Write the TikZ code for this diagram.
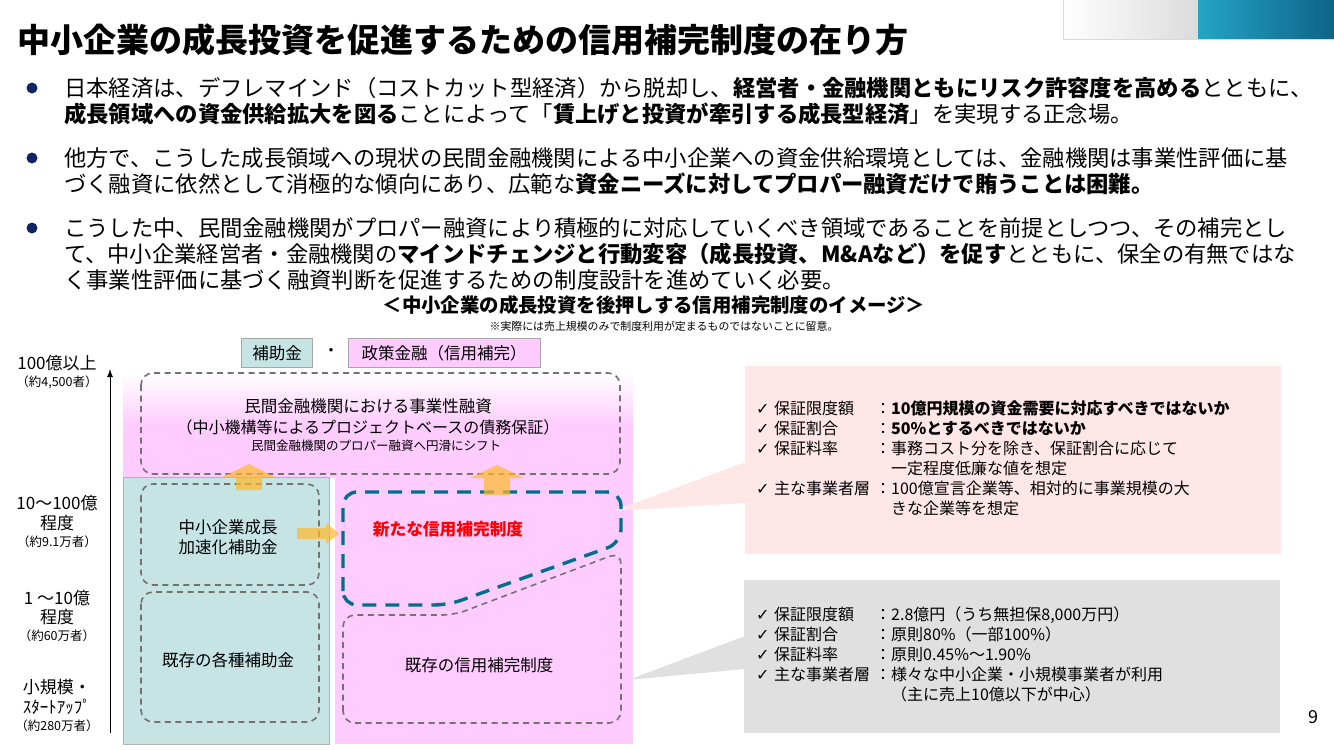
\documentclass[tikz,border=0pt]{standalone}
\usepackage{fontspec}
\setmainfont{Noto Sans CJK JP}
\newfontfamily\symfont{DejaVu Sans}
\usetikzlibrary{arrows.meta,positioning}

\definecolor{pinkfill}{RGB}{255,204,255}
\definecolor{tealfill}{RGB}{198,228,228}
\definecolor{calloutpink}{RGB}{255,230,231}
\definecolor{calloutgray}{RGB}{224,224,224}
\definecolor{dashgray}{RGB}{118,113,113}
\definecolor{newblue}{RGB}{0,110,145}
\definecolor{arrowyellow}{RGB}{255,185,40}
\definecolor{bulletblue}{RGB}{16,36,100}
\definecolor{bannerblue}{RGB}{36,164,198}
\definecolor{bannerdark}{RGB}{14,100,135}

\newcommand{\chk}{{\symfont ✓}}
\newcommand{\memorow}[2]{\makebox[18pt][l]{\chk}\makebox[101pt][l]{#1}：#2}
\newcommand{\memocont}[1]{\hspace*{135pt}#1}

\begin{document}
\begin{tikzpicture}[
    x=1pt, y=-1pt,
    >=Latex,
    dashbox/.style={draw=dashgray, line width=1.6pt, dash pattern=on 6pt off 4.5pt, rounded corners=12pt},
    newbox/.style={draw=newblue, line width=3.4pt, dash pattern=on 14pt off 9pt, rounded corners=14pt},
    lbl/.style={inner sep=0pt, align=center, font=\fontsize{16.5}{20}\selectfont},
    axislbl/.style={inner sep=0pt, font=\fontsize{17}{20}\selectfont},
    count/.style={inner sep=0pt, font=\fontsize{12.5}{15}\selectfont},
    bullettext/.style={anchor=north west, inner sep=0pt, align=left, font=\fontsize{22.3}{25.8}\selectfont},
    bulletdot/.style={circle, fill=bulletblue, minimum size=11pt, inner sep=0pt},
    memo/.style={anchor=north west, inner sep=0pt, align=left, font=\fontsize{16}{20}\selectfont},
    blockarrow/.style={fill=arrowyellow, fill opacity=0.7},
    tag/.style={draw=gray!70, line width=1pt, inner sep=0pt, minimum height=29pt, font=\fontsize{16.5}{20}\selectfont}
  ]
    \useasboundingbox (0,0) rectangle (1334,750);

    % banner top right
    \shade[left color=white, right color=gray!28] (1063,0) rectangle (1198,39);
    \shade[left color=bannerblue, right color=bannerdark] (1198,0) rectangle (1334,39);
    \draw[gray!30, line width=1pt] (1063,0) -- (1063,39) -- (1334,39);

    \node[anchor=west, inner sep=0pt, font=\fontsize{33}{36}\selectfont\bfseries] (title) at (17,40)
      {中小企業の成長投資を促進するための信用補完制度の在り方};

    % bullets
    \node[bulletdot] (dot1) at (32,88) {};
    \node[bulletdot] (dot2) at (32,158) {};
    \node[bulletdot] (dot3) at (32,228) {};
    \node[bullettext] (txt1) at (64,77.5)
      {日本経済は、デフレマインド（コストカット型経済）から脱却し、\textbf{経営者・金融機関ともにリスク許容度を高める}とともに、\\
       \textbf{成長領域への資金供給拡大を図る}ことによって「\textbf{賃上げと投資が牽引する成長型経済}」を実現する正念場。};
    \node[bullettext] (txt2) at (64,147.5)
      {他方で、こうした成長領域への現状の民間金融機関による中小企業への資金供給環境としては、金融機関は事業性評価に基\\
       づく融資に依然として消極的な傾向にあり、広範な\textbf{資金ニーズに対してプロパー融資だけで賄うことは困難。}};
    \node[bullettext] (txt3) at (64,217.5)
      {こうした中、民間金融機関がプロパー融資により積極的に対応していくべき領域であることを前提としつつ、その補完とし\\
       て、中小企業経営者・金融機関の\textbf{マインドチェンジと行動変容（成長投資、M\&Aなど）を促す}とともに、保全の有無ではな\\
       く事業性評価に基づく融資判断を促進するための制度設計を進めていく必要。};

    \node[inner sep=0pt, font=\fontsize{19.4}{22}\selectfont\bfseries] (image) at (654,305)
      {＜中小企業の成長投資を後押しする信用補完制度のイメージ＞};
    \node[inner sep=0pt, font=\fontsize{10.9}{13}\selectfont] (note) at (664,326)
      {※実際には売上規模のみで制度利用が定まるものではないことに留意。};

    % callouts (gray pointer behind the regions)
    \fill[calloutgray] (628,680) -- (745,636) -- (745,669) -- cycle;
    \fill[calloutpink] (745,366) rectangle (1281,554);
    \fill[calloutgray] (744,580) rectangle (1280,733);

    % regions
    \shade[top color=white, bottom color=pinkfill, middle color=pinkfill] (123,373) rectangle (633,477);
    \fill[pinkfill] (335,477) rectangle (633,744);
    \draw[gray!60, fill=tealfill] (123,477) rectangle (329,744);
    \fill[calloutpink] (613,511) -- (746,462) -- (746,503) -- cycle;

    \node[tag, fill=tealfill, minimum width=71pt] (hojo) at (277,353) {補助金};
    \node[inner sep=0pt, font=\fontsize{16.5}{20}\selectfont] (nakaguro) at (331,352) {・};
    \node[tag, fill=pinkfill, minimum width=192pt] (seisaku) at (444,353) {政策金融（信用補完）};

    % axis
    \coordinate (axisbot) at (110,733);
    \coordinate (axistop) at (110,369);
    \draw[line width=1pt, -{Latex[length=8pt,width=6pt]}] (axisbot) -- (axistop);
    \node[axislbl] (s1) at (57,363) {100億以上};
    \node[count] (n1) at (57,382) {（約4,500者）};
    \node[axislbl] (s2) at (57,503) {10～100億};
    \node[axislbl] (s2b) at (57,523) {程度};
    \node[count] (n2) at (57,542) {（約9.1万者）};
    \node[axislbl] (s3) at (57,598) {1 ～10億};
    \node[axislbl] (s3b) at (57,617) {程度};
    \node[count] (n3) at (57,636) {（約60万者）};
    \node[axislbl] (s4) at (57,687) {小規模・};
    \node[axislbl] (s4b) at (57,707) {ｽﾀｰﾄｱｯﾌﾟ};
    \node[count] (n4) at (57,726) {（約280万者）};

    % dashed boxes
    \draw[dashbox] (141,373) rectangle (620,474);
    \node[lbl] (private) at (368,406) {民間金融機関における事業性融資};
    \node[lbl, font=\fontsize{16}{20}\selectfont] (project) at (368,427) {（中小機構等によるプロジェクトベースの債務保証）};
    \node[lbl, font=\fontsize{12.5}{15}\selectfont] (shift) at (376,446) {民間金融機関のプロパー融資へ円滑にシフト};

    \draw[dashbox] (141,484) rectangle (319,585);
    \node[lbl] (growth) at (228,537) {中小企業成長\\加速化補助金};
    \draw[dashbox] (141,592) rectangle (319,722);
    \node[lbl] (subsidy) at (228,660) {既存の各種補助金};

    \draw[dashbox] (343,723) -- (343,615) -- (454,615) -- (621,552) -- (621,723) -- cycle;
    \node[lbl] (existing) at (479,665) {既存の信用補完制度};
    \draw[newbox] (343,605) -- (343,492) -- (621,492) -- (621,543) -- (448,605) -- cycle;
    \node[lbl, text=red, font=\fontsize{16.7}{20}\selectfont\bfseries] (newsys) at (448,529) {新たな信用補完制度};

    % block arrows
    \fill[blockarrow] (236,490) -- (236,477) -- (222,477) -- (249,464) -- (275,477) -- (262,477) -- (262,490) -- cycle;
    \fill[blockarrow] (484,495) -- (484,478) -- (470,478) -- (497,465) -- (524,478) -- (510,478) -- (510,495) -- cycle;
    \fill[blockarrow] (297,528) -- (326,528) -- (326,523) -- (339,533.5) -- (326,544) -- (326,539) -- (297,539) -- cycle;

    % memo texts
    \node[memo] (newmemo) at (756,400.5)
      {\memorow{保証限度額}{\textbf{10億円規模の資金需要に対応すべきではないか}}\\
       \memorow{保証割合}{\textbf{50\%とするべきではないか}}\\
       \memorow{保証料率}{事務コスト分を除き、保証割合に応じて}\\
       \memocont{一定程度低廉な値を想定}\\
       \memorow{主な事業者層}{100億宣言企業等、相対的に事業規模の大}\\
       \memocont{きな企業等を想定}};
    \node[memo] (oldmemo) at (756,606.5)
      {\memorow{保証限度額}{2.8億円（うち無担保8,000万円）}\\
       \memorow{保証割合}{原則80\%（一部100\%）}\\
       \memorow{保証料率}{原則0.45\%～1.90\%}\\
       \memorow{主な事業者層}{様々な中小企業・小規模事業者が利用}\\
       \memocont{（主に売上10億以下が中心）}};

    \node[inner sep=0pt, font=\fontsize{18}{20}\selectfont] (page) at (1313,717) {9};
\end{tikzpicture}
\end{document}
